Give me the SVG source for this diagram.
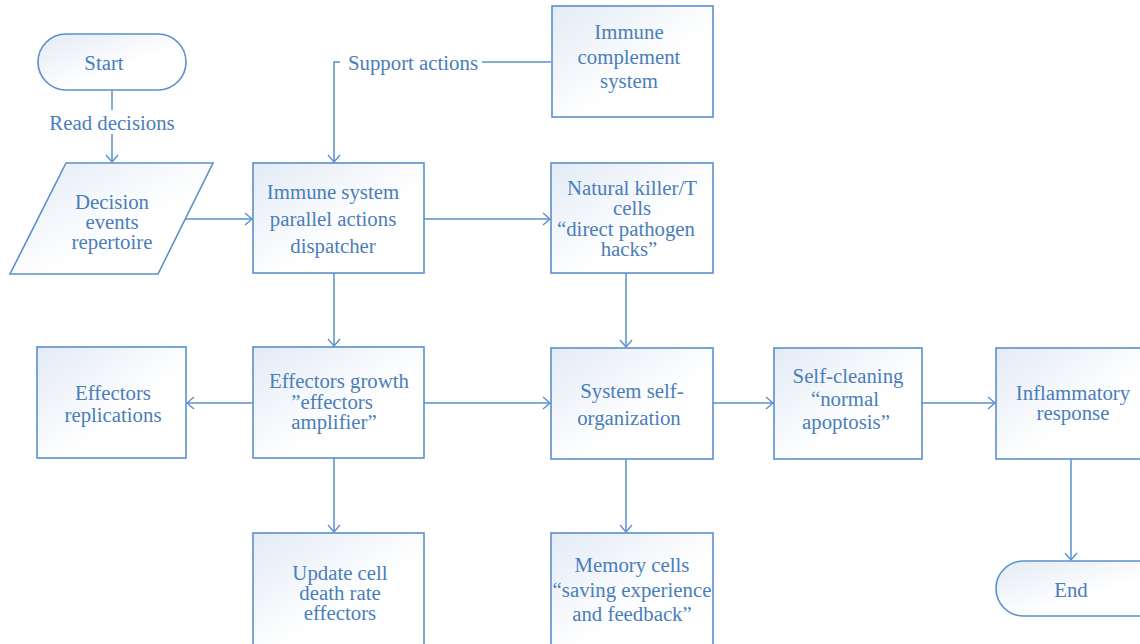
<svg xmlns="http://www.w3.org/2000/svg" width="1140" height="644" viewBox="0 0 1140 644">
<defs>
<linearGradient id="g" x1="0" y1="0" x2="1" y2="1">
<stop offset="0" stop-color="#e3ebf5"/>
<stop offset="0.6" stop-color="#ffffff"/>
<stop offset="1" stop-color="#ffffff"/>
</linearGradient>
<marker id="a" markerUnits="userSpaceOnUse" markerWidth="12" markerHeight="14" refX="8" refY="7" orient="auto">
<path d="M1,1 L8,7 L1,13" fill="none" stroke="#5b90cb" stroke-width="1.4"/>
</marker>
</defs>
<style>
.n{fill:url(#g);stroke:#5b90cb;stroke-width:1.6}
.c{fill:none;stroke:#5b90cb;stroke-width:1.5}
text{font-family:"Liberation Serif","Times New Roman",serif;font-size:20.8px;fill:#4a7eba;text-anchor:middle;dominant-baseline:central}
</style>
<rect width="1140" height="644" fill="#ffffff"/>
<g id="connectors">
<path class="c" d="M112,90 V110"/>
<path class="c" d="M112,134 V162" marker-end="url(#a)"/>
<text x="112" y="122">Read decisions</text>
<path class="c" d="M551,62 H482"/>
<path class="c" d="M340,62 H334 V162" marker-end="url(#a)"/>
<text x="413" y="62">Support actions</text>
<path class="c" d="M186,219 H252" marker-end="url(#a)"/>
<path class="c" d="M424,219 H550" marker-end="url(#a)"/>
<path class="c" d="M334,273 V346" marker-end="url(#a)"/>
<path class="c" d="M626,273 V347" marker-end="url(#a)"/>
<path class="c" d="M253,403 H187" marker-end="url(#a)"/>
<path class="c" d="M424,403 H550" marker-end="url(#a)"/>
<path class="c" d="M713,403 H773" marker-end="url(#a)"/>
<path class="c" d="M922,403 H995" marker-end="url(#a)"/>
<path class="c" d="M334,458 V532" marker-end="url(#a)"/>
<path class="c" d="M626,459 V532" marker-end="url(#a)"/>
<path class="c" d="M1071,459 V560" marker-end="url(#a)"/>
</g>
<g id="start">
<rect class="n" x="38" y="34" width="148" height="56" rx="28"/>
<text x="104" y="62">Start</text>
</g>
<g id="decision-events">
<polygon class="n" points="66,163 213,163 158,274 10,274"/>
<text x="112" y="201">Decision</text>
<text x="112" y="221">events</text>
<text x="112" y="241">repertoire</text>
</g>
<g id="immune-complement">
<rect class="n" x="552" y="6" width="161" height="111"/>
<text x="629" y="31">Immune</text>
<text x="629" y="56">complement</text>
<text x="629" y="80">system</text>
</g>
<g id="dispatcher">
<rect class="n" x="253" y="163" width="171" height="110"/>
<text x="333" y="191">Immune system</text>
<text x="333" y="218">parallel actions</text>
<text x="333" y="245">dispatcher</text>
</g>
<g id="nk-cells">
<rect class="n" x="551" y="163" width="162" height="110"/>
<text x="632" y="187">Natural killer/T</text>
<text x="632" y="207">cells</text>
<text x="626" y="228">“direct pathogen</text>
<text x="629" y="248">hacks”</text>
</g>
<g id="effectors-replications">
<rect class="n" x="37" y="347" width="149" height="111"/>
<text x="113" y="392">Effectors</text>
<text x="113" y="414">replications</text>
</g>
<g id="effectors-growth">
<rect class="n" x="253" y="347" width="171" height="111"/>
<text x="339" y="380">Effectors growth</text>
<text x="332" y="401">”effectors</text>
<text x="334" y="421">amplifier”</text>
</g>
<g id="self-organization">
<rect class="n" x="551" y="348" width="162" height="111"/>
<text x="632" y="390">System self-</text>
<text x="629" y="417">organization</text>
</g>
<g id="self-cleaning">
<rect class="n" x="774" y="348" width="148" height="111"/>
<text x="848" y="375">Self-cleaning</text>
<text x="845" y="398">“normal</text>
<text x="846" y="421">apoptosis”</text>
</g>
<g id="inflammatory">
<rect class="n" x="996" y="348" width="150" height="111"/>
<text x="1073" y="392">Inflammatory</text>
<text x="1073" y="412">response</text>
</g>
<g id="update-cell">
<rect class="n" x="253" y="533" width="171" height="112"/>
<text x="340" y="572">Update cell</text>
<text x="340" y="592">death rate</text>
<text x="340" y="612">effectors</text>
</g>
<g id="memory-cells">
<rect class="n" x="551" y="533" width="162" height="112"/>
<text x="632" y="564">Memory cells</text>
<text x="632" y="589">“saving experience</text>
<text x="632" y="613">and feedback”</text>
</g>
<g id="end">
<rect class="n" x="996" y="561" width="170" height="55" rx="27.5"/>
<text x="1071" y="589">End</text>
</g>
</svg>
